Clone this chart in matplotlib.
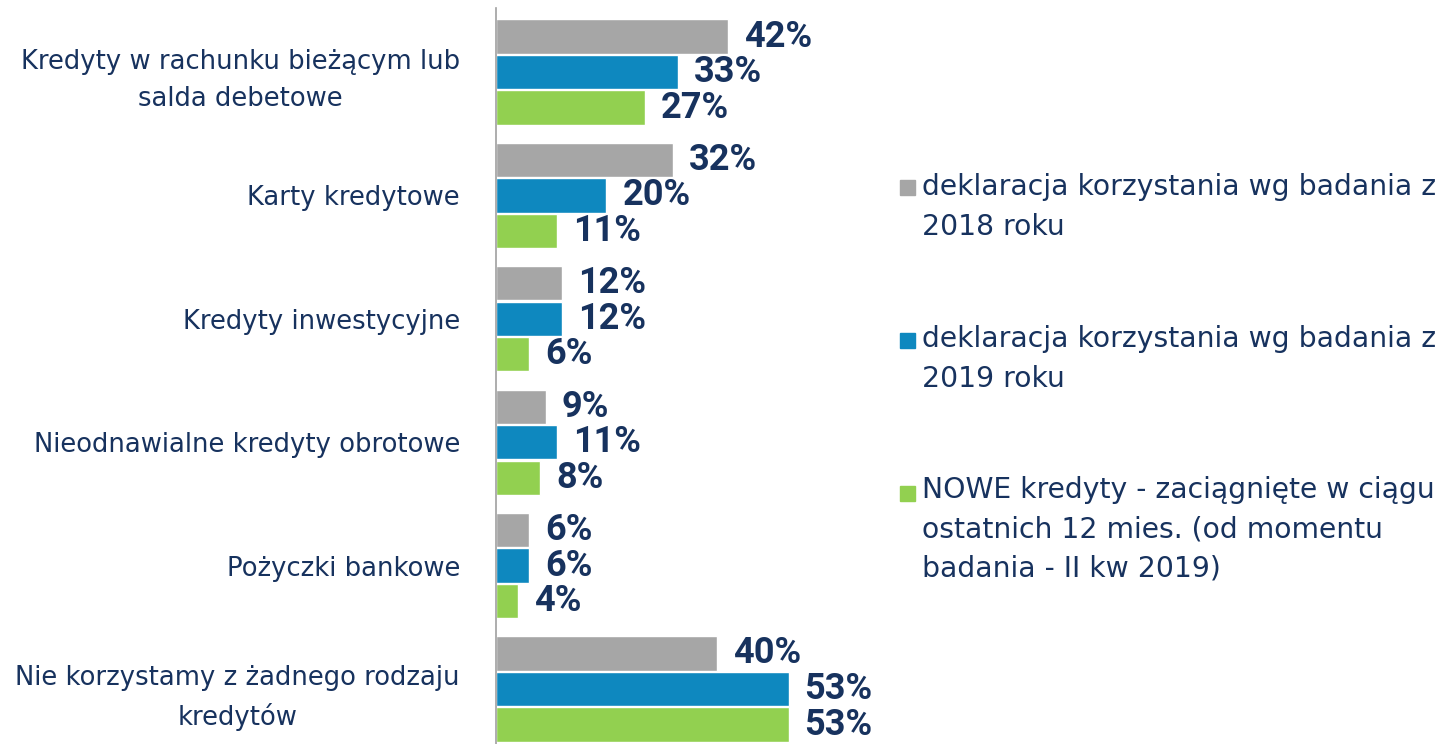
import matplotlib.pyplot as plt
from matplotlib.patches import Rectangle

categories = ['Kredyty w rachunku bieżącym lub\nsalda debetowe', 'Karty kredytowe',
              'Kredyty inwestycyjne', 'Nieodnawialne kredyty obrotowe',
              'Pożyczki bankowe', 'Nie korzystamy z żadnego rodzaju\nkredytów']
y2018 = [42, 32, 12, 9, 6, 40]
y2019 = [33, 20, 12, 11, 6, 53]
nowe = [27, 11, 6, 8, 4, 53]
series_labels = ['deklaracja korzystania wg badania z\n2018 roku',
                 'deklaracja korzystania wg badania z\n2019 roku',
                 'NOWE kredyty - zaciągnięte w ciągu\nostatnich 12 mies. (od momentu\nbadania - II kw 2019)']
colors = ['#A6A6A6', '#0E88BF', '#92D050']
navy = '#17325E'

plt.rcParams['font.family'] = ['DejaVu Sans']

fig = plt.figure(figsize=(14.5, 7.44), dpi=100)
W, H = 1450, 744
ax = fig.add_axes([496 / W, 0, (880 - 496) / W, 736 / H])

step = 0.288
height = 0.278
for k, vals in enumerate([y2018, y2019, nowe]):
    pos = [i + (k - 1) * step for i in range(len(categories))]
    ax.barh(pos, vals, height=height, color=colors[k], edgecolor='white', linewidth=1)
    for p, v in zip(pos, vals):
        ax.text(v + 2.9, p, f'{v}%', va='center', ha='left', fontsize=26,
                fontweight='bold', color=navy, family=['Roboto', 'DejaVu Sans'])

ax.set_xlim(0, (880 - 496) / 5.52)
ax.set_ylim(5.446, -0.519)
ax.set_yticks(range(len(categories)))
ax.set_yticklabels(categories, fontsize=18.6, color=navy, linespacing=1.55)
for t in ax.get_yticklabels():
    t.set_multialignment('center')
ax.tick_params(axis='y', length=0, pad=26)
ax.set_xticks([])
for s in ['top', 'right', 'bottom']:
    ax.spines[s].set_visible(False)
ax.spines['left'].set_color('#A0A0A0')
ax.spines['left'].set_linewidth(1.2)

# legend drawn by hand so the square sits on the first line
first_line = [187, 340, 493]
block_mid = [207, 359, 529.5]
for k, lab in enumerate(series_labels):
    fig.patches.append(Rectangle((900 / W, 1 - (first_line[k] + 8) / H), 15 / W, 15 / H,
                                 transform=fig.transFigure, color=colors[k]))
    fig.text(922 / W, 1 - block_mid[k] / H, lab, fontsize=20.3, color=navy,
             va='center', ha='left', linespacing=1.52)

fig.savefig('out.png', dpi=100)
